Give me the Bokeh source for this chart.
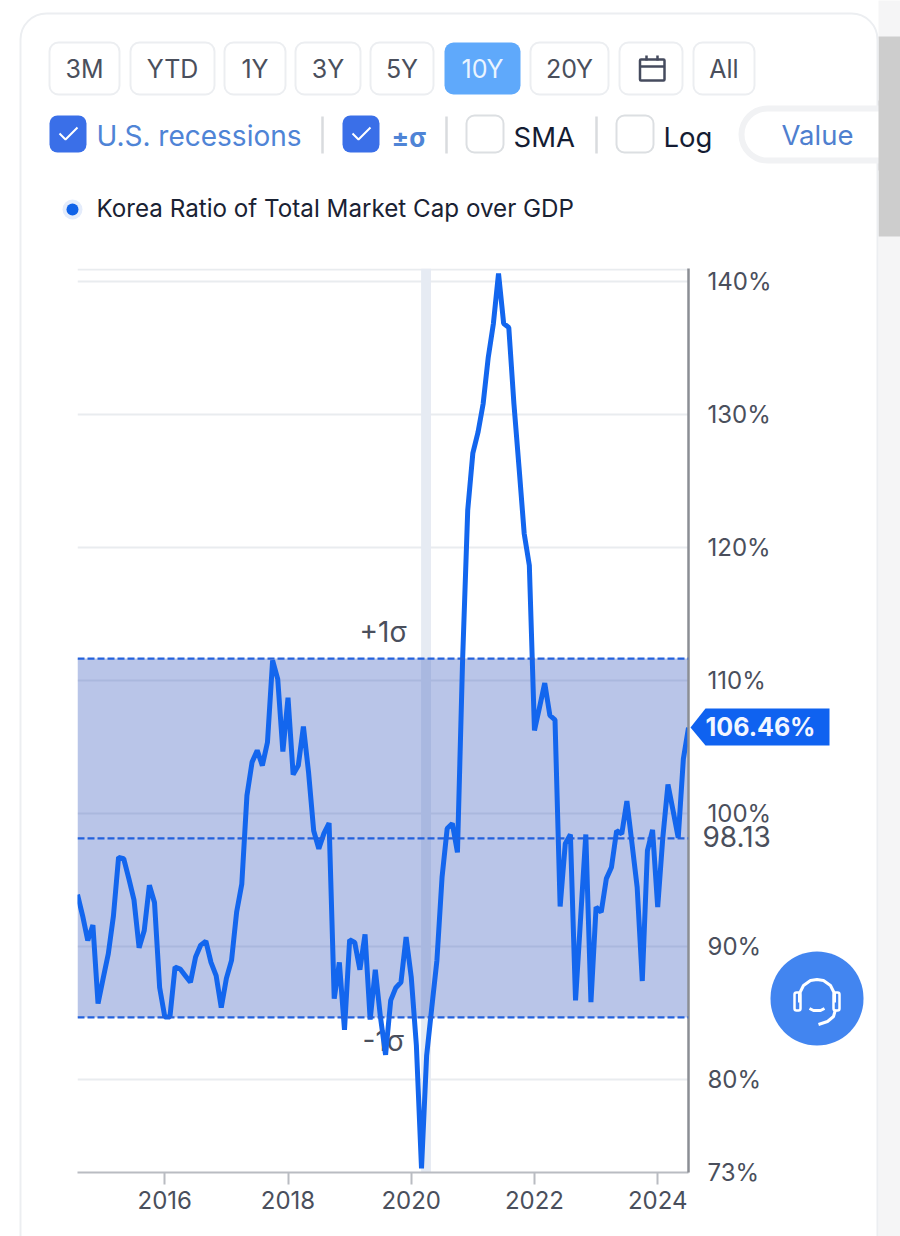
from bokeh.plotting import figure
from bokeh.embed import file_html
from bokeh.resources import INLINE
from bokeh.core.properties import value
from bokeh.models import FixedTicker, Range1d, Span

# ---- data ----
series_name = "Korea Ratio of Total Market Cap over GDP"
first_year = 2014 + 7 / 12
ratio = [
    93.9, 92.3, 90.45, 91.6, 85.7, 87.6, 89.45, 92.3, 96.7, 96.6, 95.1, 93.5,
    89.9, 91.2, 94.6, 93.3, 86.9, 84.7, 84.7, 88.45, 88.3, 87.8, 87.3, 89.2,
    90.1, 90.4, 88.8, 87.8, 85.4, 87.6, 88.95, 92.6, 94.7, 101.35, 103.86, 104.74,
    103.6, 105.36, 111.5, 110.1, 104.66, 108.7, 102.93, 103.6, 106.54, 103.1, 98.7, 97.35,
    98.5, 99.27, 86.07, 88.8, 83.73, 90.5, 90.3, 88.25, 90.9, 84.5, 88.25, 84.7,
    81.85, 85.94, 86.9, 87.3, 90.7, 87.7, 82.56, 73.3, 81.8, 85.4, 88.95, 95.2,
    98.87, 99.25, 97.07, 111.5, 122.8, 127.1, 128.65, 130.8, 134.3, 136.84, 140.6, 136.84,
    136.54, 130.8, 126.0, 121.05, 118.65, 106.24, 108.0, 109.8, 107.37, 107.04, 93.0, 97.72,
    98.42, 85.94, 92.2, 98.42, 85.81, 92.96, 92.58, 95.1, 95.96, 98.7, 98.47, 100.93,
    97.72, 94.46, 87.4, 97.2, 98.77, 92.96, 98.2, 102.18, 100.2, 98.17, 104.11, 106.46,
]
years = [first_year + i / 12 for i in range(len(ratio))]
mean_value = 98.13
plus_sigma = 111.65
minus_sigma = 84.66
recession = (2020.16, 2020.32)
y_ticks = [73, 80, 90, 100, 110, 120, 130, 140]
x_ticks = [2016, 2018, 2020, 2022, 2024]
range_buttons = ["3M", "YTD", "1Y", "3Y", "5Y", "10Y", "20Y", "All"]
Y_MIN, Y_MAX = 73.0, 140.98
X_MIN, X_MAX = first_year, first_year + 119 / 12

# ---- layout ----
W, H = 900, 1236
INK = "#4a4f5c"
DARK = "#141c33"
LINK = "#4f84d6"
BORDER = "#eceef1"
FONT = "Inter"
LINE = "#1366ee"

# Page furniture: a figure whose scale is the page itself
ui = figure(width=W, height=H, output_backend="svg", toolbar_location=None,
            x_range=Range1d(0, W), y_range=Range1d(H, 0), min_border=0)
ui.axis.visible = False
ui.grid.visible = False
ui.outline_line_color = None
ui.background_fill_color = "white"
ui.border_fill_color = "white"


def box(x0, y0, x1, y1, fill=None, line=None, lw=2, r=0):
    ui.quad(left=[x0], right=[x1], top=[y0], bottom=[y1], fill_color=fill,
            fill_alpha=1 if fill else 0, line_color=line, line_width=lw,
            line_alpha=1 if line else 0, border_radius=r)


def stroke(pts, color="white", lw=2):
    ui.line([a for a, _ in pts], [b for _, b in pts], line_color=color, line_width=lw)


def text(x, y, s, size, color=INK, align="left", style="normal"):
    ui.text([x], [y], text=[s], text_font=value(FONT), text_font_size=f"{size}px",
            text_color=color, text_align=align, text_baseline="middle", text_font_style=style)


box(878, -10, 910, 1300, "#f5f5f6")
box(878, 36, 910, 236, "#cdcdcd")
box(20, 13, 877, 1300, None, BORDER, 2, 26)

btn_x = {"3M": (49, 119), "YTD": (130, 214), "1Y": (224, 285), "3Y": (295, 360), "5Y": (370, 433),
         "10Y": (444, 520), "20Y": (530, 608), "All": (693, 754)}
for b in range_buttons:
    x0, x1 = btn_x[b]
    active = b == "10Y"
    box(x0, 42, x1, 94, "#5fa9fb" if active else "white", None if active else BORDER, 2, 9)
    text((x0 + x1) / 2, 68.5, b, 25, "#eaf4ff" if active else INK, "center")
box(619, 42, 682, 94, "white", BORDER, 2, 9)
box(639.5, 59, 664, 80, None, "#454b5e", 2.5, 1)
stroke([(639.5, 66), (664, 66)], "#454b5e", 2.5)
stroke([(646, 55), (646, 60)], "#454b5e", 2.5)
stroke([(657, 55), (657, 60)], "#454b5e", 2.5)

for x0 in (49, 342):
    box(x0, 115, x0 + 37, 152, "#3a6fe8", None, 0, 8)
    stroke([(x0 + 10, 133), (x0 + 16, 139), (x0 + 28, 127)], "white", 2)
for x0 in (466, 616):
    box(x0, 115, x0 + 37, 152, "white", "#dcdfe2", 2, 8)
for x in (322, 446, 596):
    stroke([(x, 116), (x, 153)], "#d9dbde", 2.5)
text(96, 135.5, "U.S. recessions", 28, LINK)
text(391, 137, "±σ", 26, LINK, style="bold")
text(513, 136, "SMA", 27.5, DARK)
text(663, 136, "Log", 27.5, DARK)
box(741, 108, 960, 160, "white", "#f1f2f4", 6, 26)
text(781, 134, "Value", 27.5, "#4f7fcf")
box(878, 100, 910, 170, "#cdcdcd")

box(62, 199, 82, 219, "#e4ecfb", None, 0, 10)
box(66, 203, 78, 215, "#0f62e8", None, 0, 6)
text(96, 208, series_name, 24.2, "#1a2233")

text(359, 631, "+1σ", 28)
text(362, 1040, "-1σ", 28)
text(702, 836, f"{mean_value:.2f}", 28)

ui.patch([690, 705, 829, 829, 705], [727, 708, 708, 745, 745], fill_color="#0f62f0", line_color=None)
text(705, 726, f"{ratio[-1]:.2f}%", 25, "#f2f6ff", style="bold")

box(770, 951, 863, 1045, "#4285f0", None, 0, 47)
stroke([(799, 1002), (799, 993), (803, 985), (810, 980), (816.5, 979), (823, 980), (830, 985), (834, 993), (834, 1002)], "white", 3)
box(794, 992, 800, 1010, None, "white", 2.5, 2)
box(833, 992, 839, 1010, None, "white", 2.5, 2)
stroke([(809, 1008), (813, 1010), (820, 1010), (824, 1008)], "white", 3)
stroke([(835, 1009), (833, 1016), (827, 1021), (818, 1024)], "white", 3)

# ---- chart, laid transparently over the page figure ----
p = figure(width=W, height=H, output_backend="svg", toolbar_location=None,
           x_range=Range1d(X_MIN, X_MAX), y_range=Range1d(Y_MIN, Y_MAX),
           x_axis_location="below", y_axis_location="right",
           min_border_left=77, min_border_right=W - 688,
           min_border_top=268, min_border_bottom=H - 1172,
           margin=(-H, 0, 0, 0))
p.outline_line_color = None
p.background_fill_alpha = 0
p.border_fill_alpha = 0
p.xgrid.visible = False
p.ygrid.ticker = FixedTicker(ticks=[t for t in y_ticks if t != 73] + [Y_MAX - 0.06])
p.ygrid.grid_line_color = "#e9ecef"
p.ygrid.grid_line_width = 2

p.quad(left=[recession[0]], right=[recession[1]], bottom=[Y_MIN], top=[Y_MAX],
       fill_color="#e6ebf3", line_color=None)
p.quad(left=[X_MIN], right=[X_MAX], bottom=[minus_sigma], top=[plus_sigma],
       fill_color="#3759bd", fill_alpha=0.35, line_color=None)
for v in (plus_sigma, mean_value, minus_sigma):
    p.add_layout(Span(location=v, dimension="width", line_color="#2462dc", line_width=2.2,
                      line_dash="7 3"))
p.line(years, ratio, line_color=LINE, line_width=5, line_join="bevel")

ax_r = p.yaxis[0]
ax_r.ticker = FixedTicker(ticks=y_ticks)
ax_r.major_label_overrides = {t: f"{t}%" for t in y_ticks}
ax_r.major_tick_line_color = None
ax_r.minor_tick_line_color = None
ax_r.axis_line_color = "#8b8e94"
ax_r.axis_line_width = 2.5
ax_r.major_label_standoff = 13
ax_r.major_label_text_font = FONT
ax_r.major_label_text_font_size = "24px"
ax_r.major_label_text_color = INK

ax_b = p.xaxis[0]
ax_b.ticker = FixedTicker(ticks=x_ticks)
ax_b.major_label_overrides = {t: str(t) for t in x_ticks}
ax_b.major_tick_out = 12
ax_b.major_tick_in = 0
ax_b.major_tick_line_color = "#b9bcc2"
ax_b.major_tick_line_width = 2
ax_b.minor_tick_line_color = None
ax_b.axis_line_color = "#b9bcc2"
ax_b.axis_line_width = 2
ax_b.major_label_standoff = 6
ax_b.major_label_text_font = FONT
ax_b.major_label_text_font_size = "24px"
ax_b.major_label_text_color = INK

with open("out.html", "w") as f:
    f.write(file_html([ui, p], INLINE))
